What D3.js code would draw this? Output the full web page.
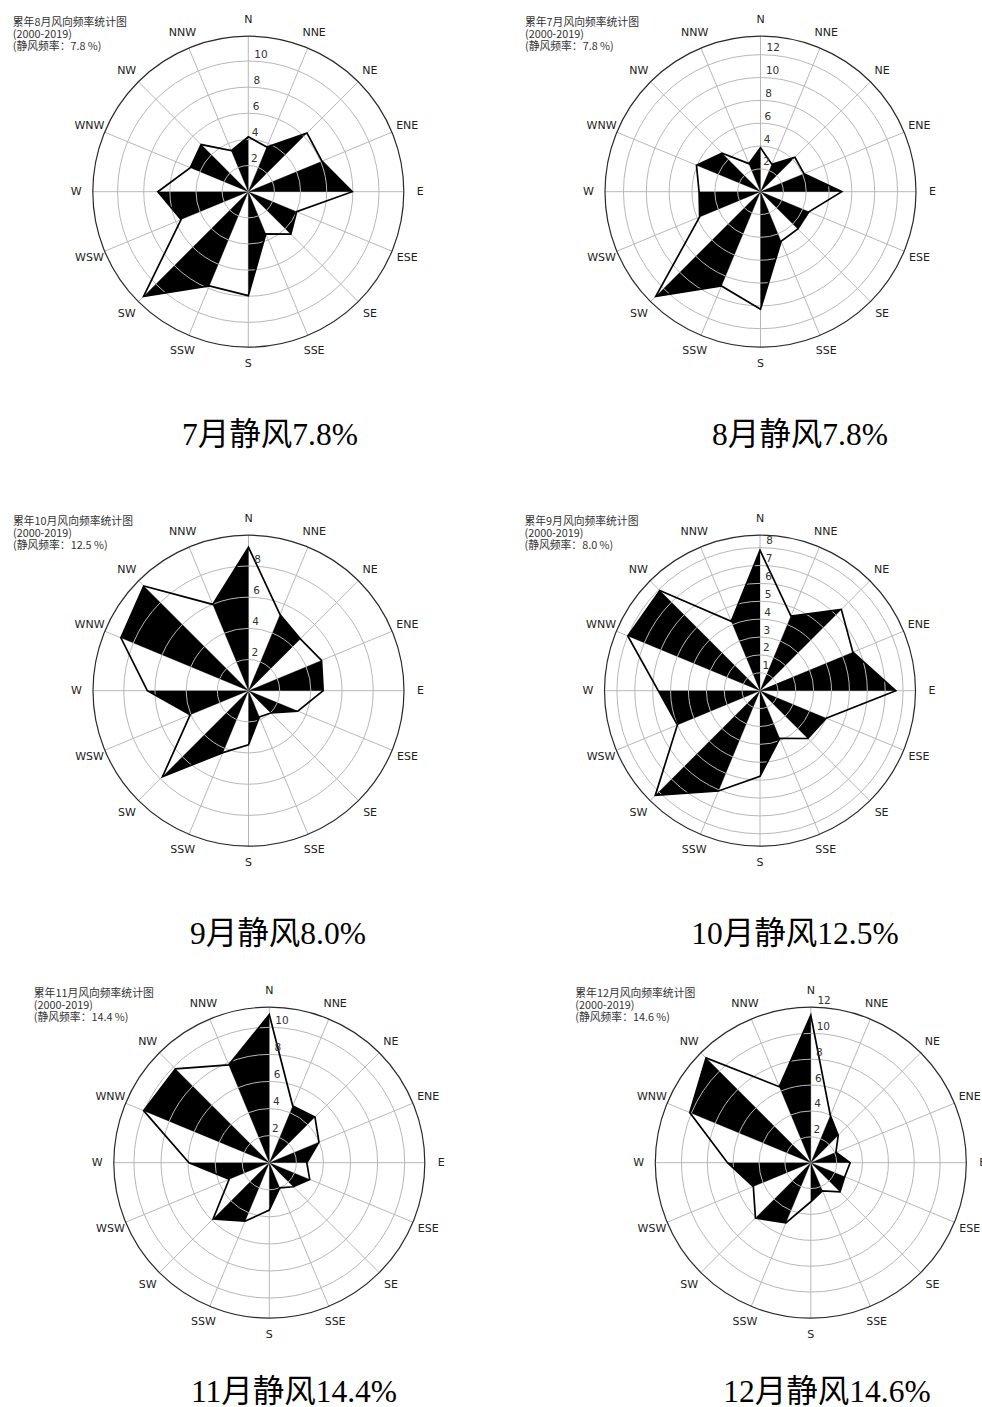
<!DOCTYPE html>
<html>
<head>
<meta charset="utf-8">
<script src="https://cdn.jsdelivr.net/npm/d3@7"></script>
<style>
  body { margin: 0; background: #fff; }
  svg { display: block; }
</style>
</head>
<body>
<svg id="chart" width="982" height="1407"></svg>
<script>
// 16 compass sectors, clockwise from north
const directions = ["N","NNE","NE","ENE","E","ESE","SE","SSE","S","SSW","SW","WSW","W","WNW","NW","NNW"];

// Wind direction frequency (%) per sector, one array per rose
const freqAug = [4.2, 3.7, 6.35, 6.1, 7.95, 4.0, 4.6, 3.5, 7.95, 7.8, 11.33, 5.57, 6.92, 4.8, 5.1, 3.4];
const freqJul = [3.85, 2.6, 4.26, 4.12, 7.12, 4.59, 4.62, 4.71, 10.3, 8.94, 12.97, 5.77, 5.38, 6.07, 4.76, 2.66];
const freqOct = [9.2, 5.28, 4.7, 5.07, 4.79, 3.42, 2.02, 1.82, 3.47, 4.3, 7.8, 4.05, 6.49, 8.86, 9.5, 5.99];
const freqSep = [7.85, 4.52, 6.43, 5.62, 7.59, 4.01, 3.78, 2.89, 4.78, 6.07, 8.28, 5.0, 5.69, 8.0, 7.92, 4.2];
const freqNov = [10.94, 4.53, 4.77, 3.97, 2.77, 3.23, 2.51, 2.01, 3.5, 4.68, 5.87, 3.21, 5.93, 10.05, 9.8, 7.82];
const freqDec = [11.4, 3.95, 3.0, 2.1, 3.04, 2.84, 3.19, 2.35, 3.02, 5.03, 6.05, 4.81, 6.44, 10.13, 11.45, 6.36];

// Radial tick labels per rose
const ticksAug = [2, 4, 6, 8, 10];
const ticksJul = [2, 4, 6, 8, 10, 12];
const ticksOct = [2, 4, 6, 8];
const ticksSep = [1, 2, 3, 4, 5, 6, 7, 8];
const ticksNov = [2, 4, 6, 8, 10];
const ticksDec = [2, 4, 6, 8, 10, 12];

// Heading text of each rose and the calm-wind share
const roseTitles = ["累年8月风向频率统计图", "累年7月风向频率统计图", "累年10月风向频率统计图",
                    "累年9月风向频率统计图", "累年11月风向频率统计图", "累年12月风向频率统计图"];
const calmRates = ["7.8", "7.8", "12.5", "8.0", "14.4", "14.6"];
const period = "(2000-2019)";

// Captions under each rose
const captions = ["7月静风7.8%", "8月静风7.8%", "9月静风8.0%", "10月静风12.5%", "11月静风14.4%", "12月静风14.6%"];

const roses = [
  { values: freqAug, ticks: ticksAug, cx: 248.3, cy: 191.7, capX: 270, capY: 445 },
  { values: freqJul, ticks: ticksJul, cx: 760.5, cy: 191.7, capX: 800, capY: 445 },
  { values: freqOct, ticks: ticksOct, cx: 248.5, cy: 690.7, capX: 278, capY: 944 },
  { values: freqSep, ticks: ticksSep, cx: 760.0, cy: 690.7, capX: 795, capY: 944 },
  { values: freqNov, ticks: ticksNov, cx: 269.3, cy: 1162.7, capX: 294, capY: 1401.5 },
  { values: freqDec, ticks: ticksDec, cx: 810.8, cy: 1162.7, capX: 827, capY: 1401.5 }
];

const svg = d3.select("#chart");
const R = 155.5;          // plot radius in px
const GRID = "#b8b8b8";

// sector index -> angle (radians, clockwise from north)
const angle = d3.scaleLinear().domain([0, directions.length]).range([0, 2 * Math.PI]);
const radial = d3.lineRadial().angle(d => d.a).radius(d => d.r);

roses.forEach((rose, k) => {
  const g = svg.append("g").attr("transform", `translate(${rose.cx},${rose.cy})`);
  const rmax = d3.max(rose.values) * 1.05;
  const r = d3.scaleLinear().domain([0, rmax]).range([0, R]);
  const pts = rose.values.map((v, i) => ({ a: angle(i), r: r(v) }));

  // spokes
  g.selectAll("line.spoke").data(directions).join("line")
    .attr("class", "spoke")
    .attr("x1", 0).attr("y1", 0)
    .attr("x2", (d, i) => R * Math.sin(angle(i)))
    .attr("y2", (d, i) => -R * Math.cos(angle(i)))
    .attr("stroke", GRID).attr("stroke-width", 1);

  // filled wedges between every other pair of neighbouring sectors
  const wedgeIdx = d3.range(1, directions.length, 2);
  g.selectAll("path.wedge").data(wedgeIdx).join("path")
    .attr("class", "wedge")
    .attr("d", i => radial([{ a: 0, r: 0 }, pts[i], pts[(i + 1) % pts.length]]) + "Z")
    .attr("fill", "#000");

  // range rings (a ring that falls on the frame is left to the frame)
  g.selectAll("circle.ring").data(rose.ticks.filter(t => r(t) < R - 3)).join("circle")
    .attr("class", "ring")
    .attr("r", d => r(d))
    .attr("fill", "none").attr("stroke", GRID).attr("stroke-width", 1);

  // outer frame
  g.append("circle").attr("r", R)
    .attr("fill", "none").attr("stroke", "#2a2a2a").attr("stroke-width", 1.2);

  // frequency outline
  g.append("path")
    .attr("d", d3.lineRadial().angle(d => d.a).radius(d => d.r).curve(d3.curveLinearClosed)(pts))
    .attr("fill", "none").attr("stroke", "#000").attr("stroke-width", 1.7)
    .attr("stroke-linejoin", "miter");

  // radial tick labels along the north spoke
  g.selectAll("text.rtick").data(rose.ticks).join("text")
    .attr("class", "rtick")
    .attr("x", d => r(d) * Math.sin(0.03) + 2)
    .attr("y", d => -r(d) * Math.cos(0.03) - 3.5)
    .attr("font-family", "DejaVu Sans, sans-serif")
    .attr("font-size", 10.5)
    .attr("fill", "#333")
    .text(d => d);

  // compass labels
  g.selectAll("text.dir").data(directions).join("text")
    .attr("class", "dir")
    .attr("x", (d, i) => 172 * Math.sin(angle(i)))
    .attr("y", (d, i) => -172 * Math.cos(angle(i)))
    .attr("text-anchor", "middle")
    .attr("dominant-baseline", "central")
    .attr("font-family", "DejaVu Sans, sans-serif")
    .attr("font-size", 11)
    .attr("fill", "#222")
    .text(d => d);

  // heading block
  const head = g.append("text")
    .attr("x", -235.5).attr("y", -166)
    .attr("font-family", "'Noto Sans CJK SC', sans-serif")
    .attr("font-size", 10.8)
    .attr("fill", "#333");
  [roseTitles[k], period, `(静风频率：${calmRates[k]} %)`].forEach((line, j) => {
    head.append("tspan").attr("x", -235.5).attr("dy", j === 0 ? 0 : 12.2).text(line);
  });

  // caption below the rose
  svg.append("text")
    .attr("x", rose.capX).attr("y", rose.capY)
    .attr("text-anchor", "middle")
    .attr("font-family", "'Liberation Serif', 'Noto Sans CJK SC', serif")
    .attr("font-size", 31.5)
    .attr("fill", "#000")
    .text(captions[k]);
});
</script>
</body>
</html>
